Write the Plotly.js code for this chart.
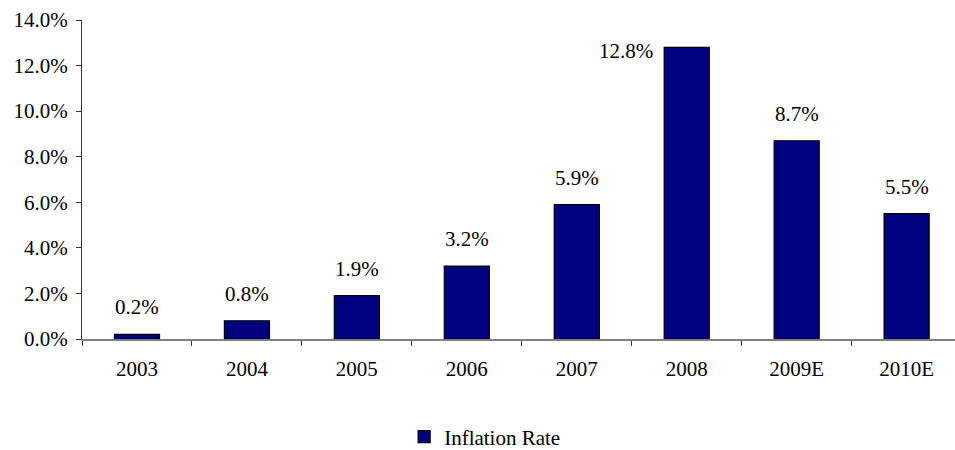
<!DOCTYPE html>
<html>
<head>
<meta charset="utf-8">
<script src="https://cdn.plot.ly/plotly-3.0.1.min.js"></script>
<style>html,body{margin:0;padding:0;background:#fff;overflow:hidden;}#chart{width:955px;height:450px;}</style>
</head>
<body>
<div id="chart"></div>
<script>
var categories = ["2003", "2004", "2005", "2006", "2007", "2008", "2009E", "2010E"];
var inflationRate = [0.2, 0.8, 1.9, 3.2, 5.9, 12.8, 8.7, 5.5];
var seriesName = "Inflation Rate";
var yTicks = [0, 2, 4, 6, 8, 10, 12, 14];

var FONT = "'Liberation Serif', 'Times New Roman', serif";
var FS = 21;
var maxVal = Math.max.apply(null, inflationRate);

var annotations = categories.map(function (c, i) {
  var v = inflationRate[i];
  var isMax = v === maxVal;
  return {
    x: i, y: v, xref: "x", yref: "y",
    text: v.toFixed(1) + "%",
    showarrow: false,
    xanchor: "center", yanchor: "middle",
    xshift: isMax ? -61 : 0,
    yshift: isMax ? -4 : 27,
    font: {family: FONT, size: FS, color: "#000"}
  };
});

var trace = {
  type: "bar",
  x: categories,
  y: inflationRate,
  name: seriesName,
  width: 0.41,
  marker: {color: "#000080", line: {color: "#000", width: 1.2}},
  showlegend: true,
  hoverinfo: "x+y"
};

var layout = {
  width: 955, height: 450,
  margin: {l: 82, r: 0, t: 20, b: 111, autoexpand: false},
  paper_bgcolor: "#fff", plot_bgcolor: "#fff",
  font: {family: FONT, size: FS, color: "#000"},
  bargap: 0.59,
  xaxis: {
    type: "category",
    range: [-0.5, 7.44],
    showgrid: false, zeroline: false,
    showline: true, linecolor: "#808080", linewidth: 1.5,
    ticks: "outside", tickson: "boundaries", ticklen: 5, tickcolor: "#333", tickwidth: 1,
    ticklabelstandoff: 10,
    tickfont: {family: FONT, size: FS, color: "#000"},
    automargin: false,
    fixedrange: true
  },
  yaxis: {
    range: [0, 14],
    tickvals: yTicks,
    ticktext: yTicks.map(function (t) { return t.toFixed(1) + "%"; }),
    showgrid: false, zeroline: false,
    showline: true, linecolor: "#333", linewidth: 1,
    ticks: "outside", ticklen: 5, tickcolor: "#333",
    ticklabelstandoff: 4,
    tickfont: {family: FONT, size: FS, color: "#000"},
    automargin: false,
    fixedrange: true
  },
  showlegend: true,
  legend: {
    orientation: "h",
    xref: "container", yref: "container",
    x: 0.508, xanchor: "center",
    y: 0.029, yanchor: "middle",
    font: {family: FONT, size: FS, color: "#000"},
    bgcolor: "rgba(0,0,0,0)"
  },
  annotations: annotations
};

Plotly.newPlot("chart", [trace], layout, {displayModeBar: false, staticPlot: true});
</script>
</body>
</html>
